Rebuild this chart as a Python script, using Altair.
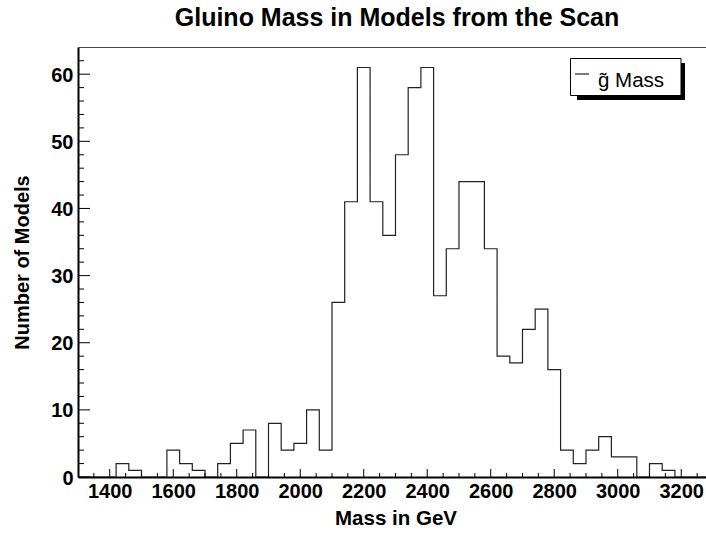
import altair as alt
import pandas as pd

# Histogram of gluino masses: 50 bins of 40 GeV from 1300 to 3300 GeV
bin_low = 1300
bin_width = 40
counts = [0, 0, 0, 2, 1, 0, 0, 4, 2, 1,
          0, 2, 5, 7, 0, 8, 4, 5, 10, 4,
          26, 41, 61, 41, 36, 48, 58, 61, 27, 34,
          44, 44, 34, 18, 17, 22, 25, 16, 4, 2,
          4, 6, 3, 3, 0, 2, 1, 0, 0, 0]

x_label_values = [1400, 1600, 1800, 2000, 2200, 2400, 2600, 2800, 3000, 3200]
x_minor_values = [v for v in range(1350, 3300, 50) if v not in x_label_values]
y_label_values = [0, 10, 20, 30, 40, 50, 60]
y_minor_values = [v for v in range(2, 64, 2) if v not in y_label_values]

title_text = "Gluino Mass in Models from the Scan"
legend_label = "g\u0303 Mass"

FONT = "Liberation Sans"
W, H = 628, 430
X_DOMAIN = [1300, 3278]
Y_DOMAIN = [0, 64.05]

edges = [bin_low + i * bin_width for i in range(len(counts) + 1)]
hist = pd.DataFrame({"mass": edges, "n": counts + [counts[-1]]})

xs = alt.Scale(domain=X_DOMAIN, nice=False, zero=False)
ys = alt.Scale(domain=Y_DOMAIN, nice=False, zero=False)

x_axis = alt.Axis(
    values=x_label_values, format="d", tickSize=0, grid=False,
    labelFont=FONT, labelFontSize=20, labelFontWeight="bold", labelColor="black",
    labelPadding=20, labelBaseline="alphabetic", labelFlush=False, labelOverlap=False,
    domainColor="black", domainWidth=2,
    title="Mass in GeV", titleFont=FONT, titleFontSize=20.5, titleFontWeight="bold",
    titleColor="black", titleX=317.5, titleY=47.3, titleBaseline="alphabetic",
    titleAlign="center",
)
y_axis = alt.Axis(
    values=y_label_values, format="d", tickSize=0, grid=False,
    labelFont=FONT, labelFontSize=20, labelFontWeight="bold", labelColor="black",
    labelPadding=5, labelBaseline="middle", labelOffset=1, labelFlush=False,
    labelOverlap=False, domainColor="black", domainWidth=2,
    title="Number of Models", titleFont=FONT, titleFontSize=20, titleFontWeight="bold",
    titleColor="black", titleX=-50, titleY=H / 2, titleAngle=270,
    titleBaseline="alphabetic", titleAlign="center",
)

steps = alt.Chart(hist).mark_line(
    interpolate="step-after", color="#222222", strokeWidth=1.2, clip=True
).encode(
    x=alt.X("mass:Q", scale=xs, axis=x_axis),
    y=alt.Y("n:Q", scale=ys, axis=y_axis),
)

# inward-pointing tick marks on both axes
x_major = alt.Chart(pd.DataFrame({"v": x_label_values})).mark_rule(color="black").encode(
    x=alt.X("v:Q", scale=xs), y=alt.value(H), y2=alt.value(H - 8))
x_minor = alt.Chart(pd.DataFrame({"v": x_minor_values})).mark_rule(color="black").encode(
    x=alt.X("v:Q", scale=xs), y=alt.value(H), y2=alt.value(H - 4))
y_major = alt.Chart(pd.DataFrame({"v": y_label_values})).mark_rule(color="black").encode(
    y=alt.Y("v:Q", scale=ys), x=alt.value(0), x2=alt.value(12))
y_minor = alt.Chart(pd.DataFrame({"v": y_minor_values})).mark_rule(color="black").encode(
    y=alt.Y("v:Q", scale=ys), x=alt.value(0), x2=alt.value(6))

one = pd.DataFrame({"k": [0]})
frame_top = alt.Chart(one).mark_rule(color="#444444", strokeWidth=1).encode(
    x=alt.value(0), x2=alt.value(W), y=alt.value(0.5))

# chart heading, centred over the full frame
heading = alt.Chart(one).mark_text(
    font=FONT, fontSize=25, fontWeight="bold", align="center",
    baseline="alphabetic", color="black"
).encode(x=alt.value(319), y=alt.value(-21.3), text=alt.value(title_text))

# legend box with drop shadow
shadow = alt.Chart(one).mark_rect(color="black").encode(
    x=alt.value(499), x2=alt.value(607), y=alt.value(16), y2=alt.value(53))
box = alt.Chart(one).mark_rect(fill="white", stroke="black", strokeWidth=1).encode(
    x=alt.value(492.5), x2=alt.value(603), y=alt.value(11.5), y2=alt.value(48.5))
leg_line = alt.Chart(one).mark_rule(color="#222222", strokeWidth=1.2).encode(
    x=alt.value(497), x2=alt.value(511), y=alt.value(27))
leg_text = alt.Chart(one).mark_text(
    font=FONT, fontSize=20.5, align="left", baseline="alphabetic", color="black"
).encode(x=alt.value(520), y=alt.value(39.7), text=alt.value(legend_label))

chart = alt.layer(
    steps, x_major, x_minor, y_major, y_minor, frame_top,
    shadow, box, leg_line, leg_text, heading,
).properties(
    width=W, height=H,
    padding={"left": 78, "top": 47, "right": 0, "bottom": 56},
    autosize=alt.AutoSizeParams(type="none"),
).configure_view(stroke=None).configure(background="white")

chart.save("out.html", embed_options={"renderer": "svg", "actions": False})
